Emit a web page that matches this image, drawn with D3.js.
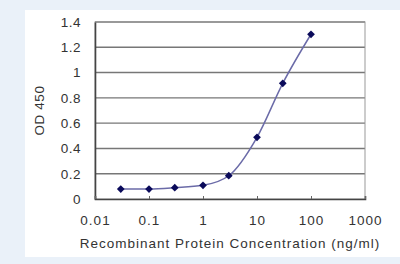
<!DOCTYPE html>
<html>
<head>
<meta charset="utf-8">
<script src="https://cdn.jsdelivr.net/npm/d3@7"></script>
<style>
  body { margin: 0; background: #eaf1f9; }
  svg { display: block; }
  text { font-family: Arial, "Liberation Sans", sans-serif; fill: #333; }
</style>
</head>
<body>
<svg></svg>
<script>
// concentrations (ng/ml) and OD 450 readings
const conc = [0.03, 0.1, 0.3, 1, 3, 10, 30, 100];
const od = [0.079, 0.079, 0.089, 0.108, 0.184, 0.488, 0.915, 1.303];
const xTicks = [0.01, 0.1, 1, 10, 100, 1000];
const yTicks = [0, 0.2, 0.4, 0.6, 0.8, 1, 1.2, 1.4];

const width = 400, height = 264;
const plotLeft = 95, plotRight = 365, plotTop = 22, plotBottom = 199;

const svg = d3.select('svg')
    .attr('width', width)
    .attr('height', height);

// white panel
svg.append('rect')
    .attr('x', 25)
    .attr('y', 10)
    .attr('width', width - 25)
    .attr('height', 247)
    .attr('fill', '#fff');

const x = d3.scaleLog().domain([0.01, 1000]).range([plotLeft, plotRight]);
const y = d3.scaleLinear().domain([0, 1.4]).range([plotBottom, plotTop]);

// gridlines
svg.append('g')
  .selectAll('line')
  .data(yTicks.slice(1))
  .join('line')
    .attr('x1', plotLeft)
    .attr('x2', plotRight)
    .attr('y1', d => y(d))
    .attr('y2', d => y(d))
    .attr('stroke', '#777')
    .attr('stroke-width', 1.4);

// plot border
svg.append('rect')
    .attr('x', plotLeft)
    .attr('y', plotTop)
    .attr('width', plotRight - plotLeft)
    .attr('height', plotBottom - plotTop)
    .attr('fill', 'none')
    .attr('stroke', '#999');

// y axis
const yAxis = svg.append('g')
    .attr('transform', `translate(${plotLeft},0)`)
    .call(d3.axisLeft(y).tickValues(yTicks).tickFormat(d3.format('~g')).tickSize(0).tickPadding(14));
yAxis.select('.domain').attr('stroke', '#444').attr('stroke-width', 1.6);
yAxis.selectAll('text')
    .style('font-size', '13.5px')
    .attr('fill', '#333')
    .attr('letter-spacing', '0.5px');

// x axis
const xAxis = svg.append('g')
    .attr('transform', `translate(0,${plotBottom})`)
    .call(d3.axisBottom(x).tickValues(xTicks).tickFormat(d3.format('~g')).tickSize(-3).tickPadding(16));
xAxis.select('.domain').attr('stroke', '#444').attr('stroke-width', 1.6);
xAxis.selectAll('line').attr('stroke', '#666');
xAxis.selectAll('text')
    .style('font-size', '13.5px')
    .attr('fill', '#333')
    .attr('letter-spacing', '1px');

// axis titles
svg.append('text')
    .attr('x', (plotLeft + plotRight) / 2)
    .attr('y', 248)
    .attr('text-anchor', 'middle')
    .style('font-size', '13.5px')
    .attr('letter-spacing', '1px')
    .text('Recombinant Protein Concentration (ng/ml)');

svg.append('text')
    .attr('transform', `translate(44,${(plotTop + plotBottom) / 2}) rotate(-90)`)
    .attr('text-anchor', 'middle')
    .style('font-size', '13.5px')
    .attr('letter-spacing', '0.6px')
    .text('OD 450');

// curve
const pts = conc.map((c, i) => [c, od[i]]);
svg.append('path')
    .datum(pts)
    .attr('fill', 'none')
    .attr('stroke', '#6b6ba8')
    .attr('stroke-width', 1.5)
    .attr('d', d3.line()
        .x(d => x(d[0]))
        .y(d => y(d[1]))
        .curve(d3.curveMonotoneX));

// markers
svg.append('g')
  .selectAll('path')
  .data(pts)
  .join('path')
    .attr('transform', d => `translate(${x(d[0])},${y(d[1])}) rotate(45)`)
    .attr('d', d3.symbol(d3.symbolSquare, 30))
    .attr('fill', '#0a0a5a');
</script>
</body>
</html>
